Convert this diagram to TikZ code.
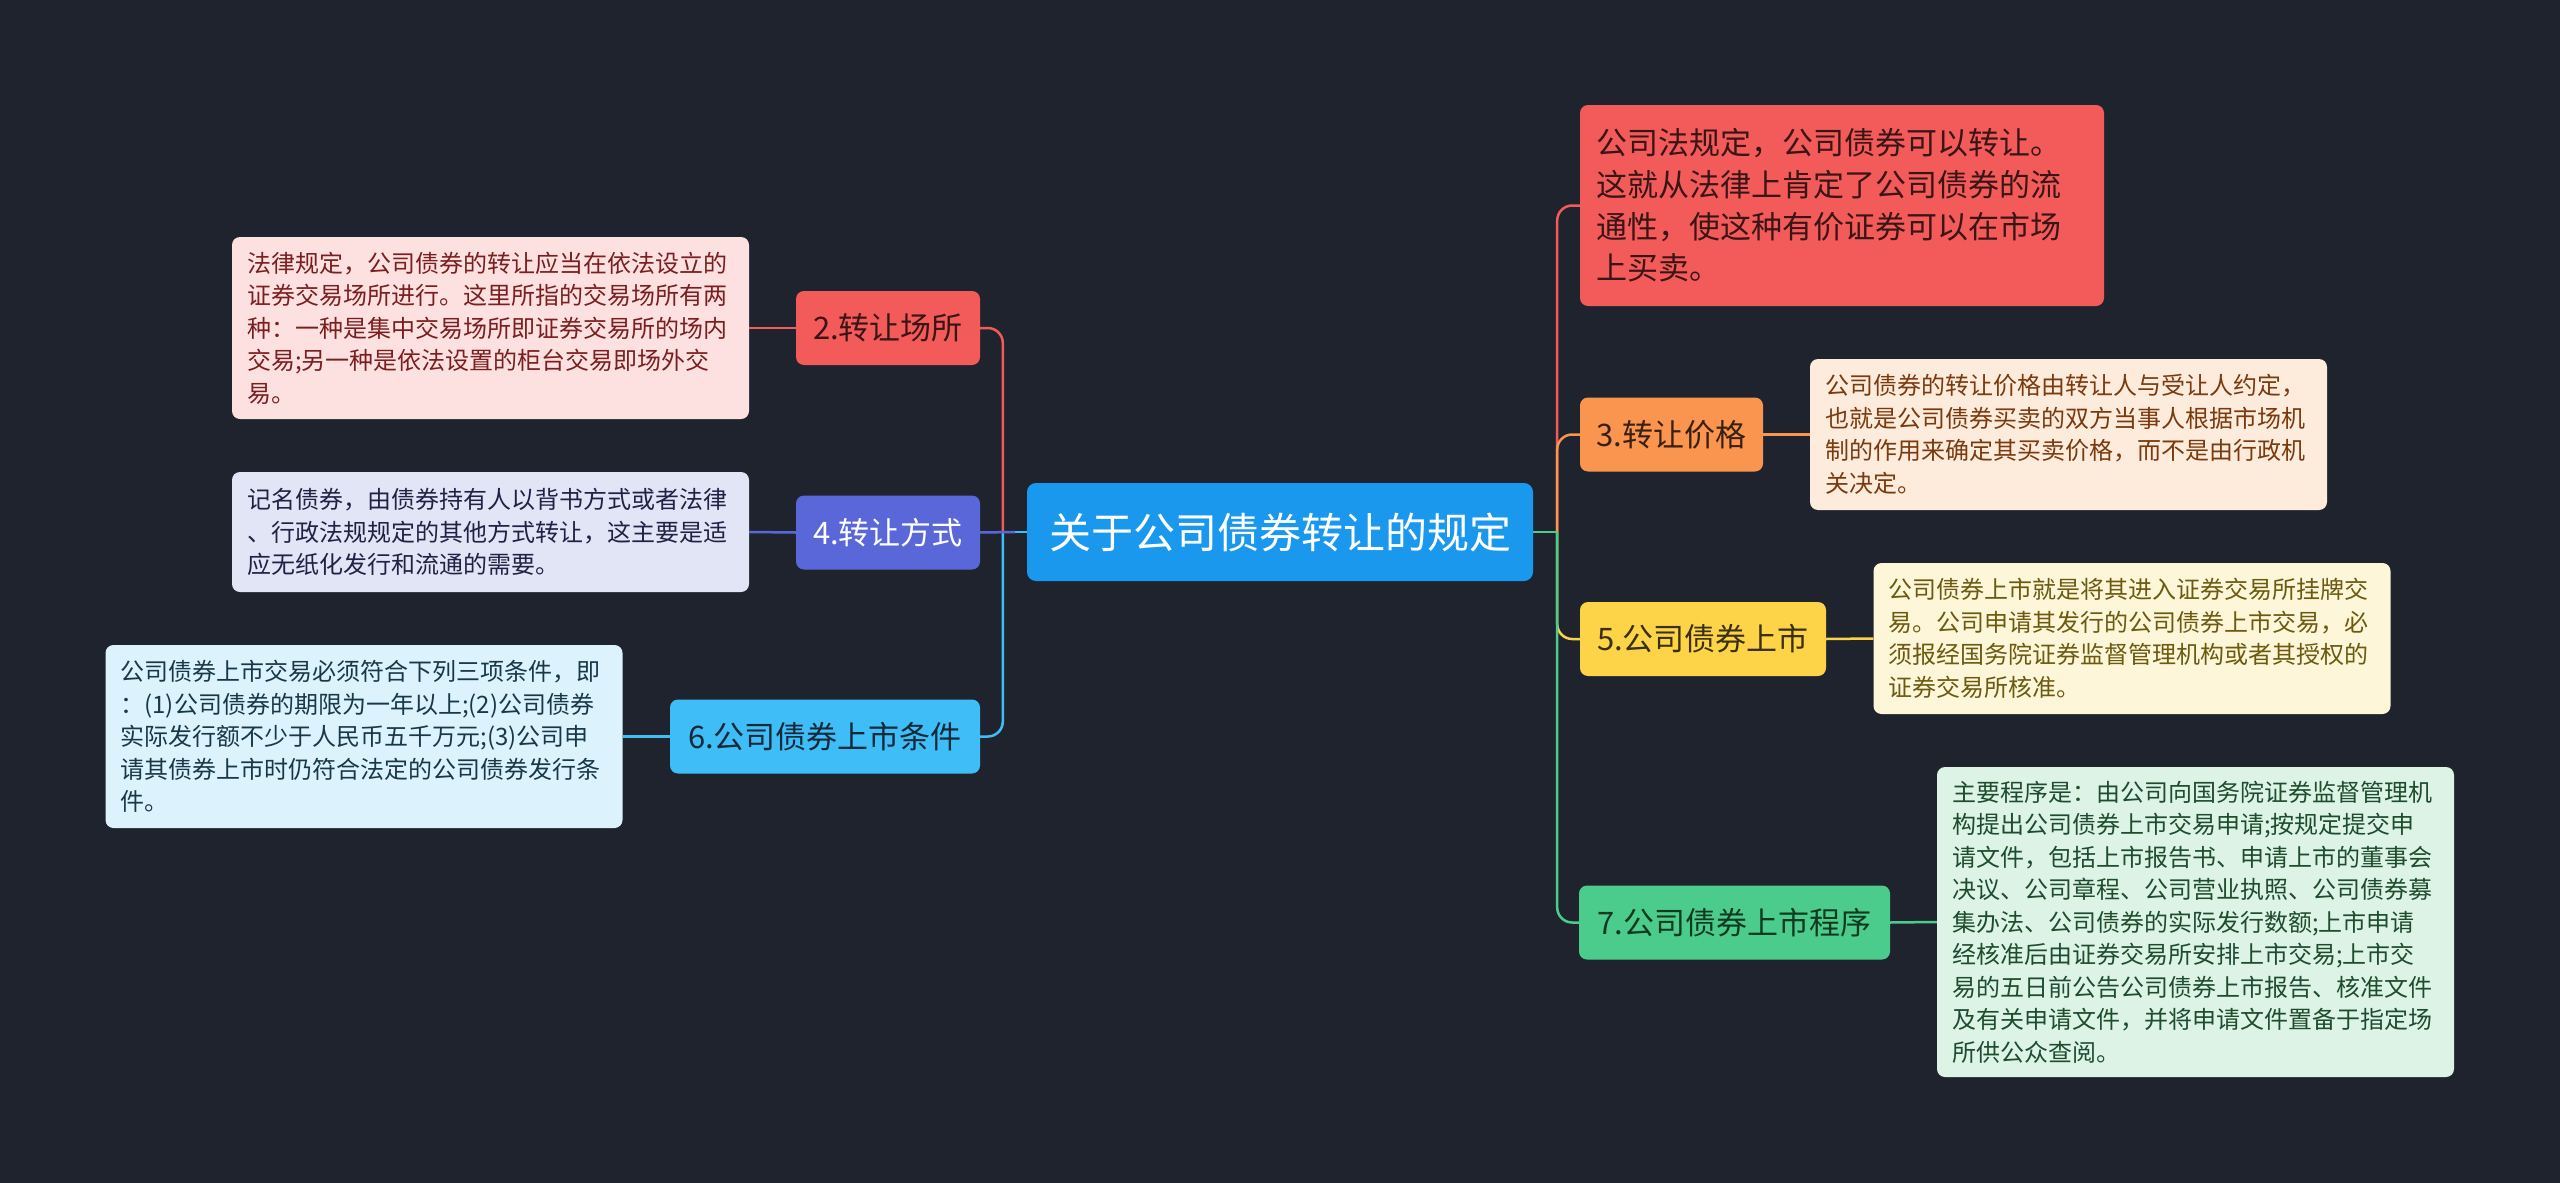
\documentclass[tikz,border=0pt]{standalone}
\usepackage{fontspec}
\setmainfont{Noto Sans CJK SC}
\definecolor{bg}{HTML}{1F232E}
\definecolor{cblue}{HTML}{1A98EE}
\definecolor{cred}{HTML}{F35B5B}
\definecolor{credt}{HTML}{3A1515}
\definecolor{credbox}{HTML}{FDE1E1}
\definecolor{credboxt}{HTML}{7A1F1F}
\definecolor{cpur}{HTML}{5A67D8}
\definecolor{cpurbox}{HTML}{E2E5F6}
\definecolor{cpurboxt}{HTML}{1E2345}
\definecolor{csky}{HTML}{3EBDF7}
\definecolor{cskyt}{HTML}{15293A}
\definecolor{cskybox}{HTML}{DCF3FD}
\definecolor{cskyboxt}{HTML}{18384A}
\definecolor{corg}{HTML}{FA9550}
\definecolor{corgt}{HTML}{3A2010}
\definecolor{corgbox}{HTML}{FDEBDC}
\definecolor{corgboxt}{HTML}{7A3A0E}
\definecolor{cyel}{HTML}{FDD448}
\definecolor{cyelt}{HTML}{3A3010}
\definecolor{cyelbox}{HTML}{FDF6D8}
\definecolor{cyelboxt}{HTML}{6B5A10}
\definecolor{cgrn}{HTML}{4CCC8C}
\definecolor{cgrnt}{HTML}{103A20}
\definecolor{cgrnbox}{HTML}{DDF3E6}
\definecolor{cgrnboxt}{HTML}{1D4D2D}
\tikzset{
  rootnode/.style={rounded corners=9pt, fill=cblue, text=white, inner sep=0pt, align=center,
    font=\fontsize{42}{50}\selectfont, minimum width=506pt, minimum height=98pt},
  mainnode/.style={rounded corners=8pt, inner sep=0pt, align=center,
    font=\fontsize{31}{41.5}\selectfont, minimum height=74pt},
  textbox/.style={rounded corners=8pt, inner xsep=15pt, inner ysep=0pt, align=left,
    font=\fontsize{24}{32.5}\selectfont, text width=487pt, minimum height=#1},
  stub/.style={line width=2.5pt},
  link/.style={line width=2.5pt, rounded corners=15pt}
}
\begin{document}
\begin{tikzpicture}[x=1pt,y=-1pt]
\fill[bg] (0,0) rectangle (2560,1183);
\useasboundingbox (0,0) rectangle (2560,1183);

\node[rootnode] (c) at (1280,532) {关于公司债券转让的规定};

% left main nodes
\node[mainnode, fill=cred, text=credt, minimum width=184pt] (n2) at (888,328) {2.转让场所};
\node[mainnode, fill=cpur, text=white, minimum width=184pt] (n4) at (888,532.5) {4.转让方式};
\node[mainnode, fill=csky, text=cskyt, minimum width=310pt] (n6) at (825,736.5) {6.公司债券上市条件};

% right main nodes
\node[rounded corners=8pt, inner xsep=16pt, inner ysep=0pt, align=left, fill=cred, text=credt,
  font=\fontsize{31}{41.7}\selectfont, text width=492pt, minimum height=201pt] (n1) at (1842,205.5)
  {公司法规定，公司债券可以转让。\\这就从法律上肯定了公司债券的流\\通性，使这种有价证券可以在市场\\上买卖。};
\node[mainnode, fill=corg, text=corgt, minimum width=183pt] (n3) at (1671.5,434.5) {3.转让价格};
\node[mainnode, fill=cyel, text=cyelt, minimum width=246pt] (n5) at (1703,639) {5.公司债券上市};
\node[mainnode, fill=cgrn, text=cgrnt, minimum width=311pt] (n7) at (1734.5,922.5) {7.公司债券上市程序};

% text boxes
\node[textbox=182pt, fill=credbox, text=credboxt] (t2) at (490.5,328)
  {法律规定，公司债券的转让应当在依法设立的\\证券交易场所进行。这里所指的交易场所有两\\种：一种是集中交易场所即证券交易所的场内\\交易;另一种是依法设置的柜台交易即场外交\\易。};
\node[textbox=120pt, fill=cpurbox, text=cpurboxt] (t4) at (490.5,532)
  {记名债券，由债券持有人以背书方式或者法律\\、行政法规规定的其他方式转让，这主要是适\\应无纸化发行和流通的需要。};
\node[textbox=183pt, fill=cskybox, text=cskyboxt] (t6) at (364,736.5)
  {公司债券上市交易必须符合下列三项条件，即\\：(1)公司债券的期限为一年以上;(2)公司债券\\实际发行额不少于人民币五千万元;(3)公司申\\请其债券上市时仍符合法定的公司债券发行条\\件。};
\node[textbox=151pt, fill=corgbox, text=corgboxt] (t3) at (2068.5,434.5)
  {公司债券的转让价格由转让人与受让人约定，\\也就是公司债券买卖的双方当事人根据市场机\\制的作用来确定其买卖价格，而不是由行政机\\关决定。};
\node[textbox=151pt, fill=cyelbox, text=cyelboxt] (t5) at (2132,638.5)
  {公司债券上市就是将其进入证券交易所挂牌交\\易。公司申请其发行的公司债券上市交易，必\\须报经国务院证券监督管理机构或者其授权的\\证券交易所核准。};
\node[textbox=310pt, fill=cgrnbox, text=cgrnboxt] (t7) at (2195.5,922)
  {主要程序是：由公司向国务院证券监督管理机\\构提出公司债券上市交易申请;按规定提交申\\请文件，包括上市报告书、申请上市的董事会\\决议、公司章程、公司营业执照、公司债券募\\集办法、公司债券的实际发行数额;上市申请\\经核准后由证券交易所安排上市交易;上市交\\易的五日前公告公司债券上市报告、核准文件\\及有关申请文件，并将申请文件置备于指定场\\所供公众查阅。};

% connectors from root: left side
\draw[link, cred] (c.west) ++(-24,0) |- (n2.east);
\draw[link, csky] (c.west) ++(-24,0) |- (n6.east);
\draw[stub, csky] (c.west) -- ++(-24,0);
\draw[stub, cpur] (c.west) ++(-12,0) -- (n4.east);
% right side
\draw[link, cred] (c.east) ++(24,0) |- (n1.west);
\draw[link, corg] (c.east) ++(24,0) |- (n3.west);
\draw[link, cyel] (c.east) ++(24,0) |- (n5.west);
\draw[link, cgrn] (c.east) ++(24,0) |- (n7.west);
\draw[stub, cgrn] (c.east) -- ++(24,0);

% connectors to text boxes
\draw[stub, cred] (n2.west) -- (t2.east);
\draw[stub, cpur] (n4.west) -- (t4.east);
\draw[stub, csky] (n6.west) -- (t6.east);
\draw[stub, corg] (n3.east) -- (t3.west);
\draw[stub, cyel] (n5.east) -- (t5.west);
\draw[stub, cgrn] (n7.east) -- (t7.west);
\end{tikzpicture}
\end{document}
